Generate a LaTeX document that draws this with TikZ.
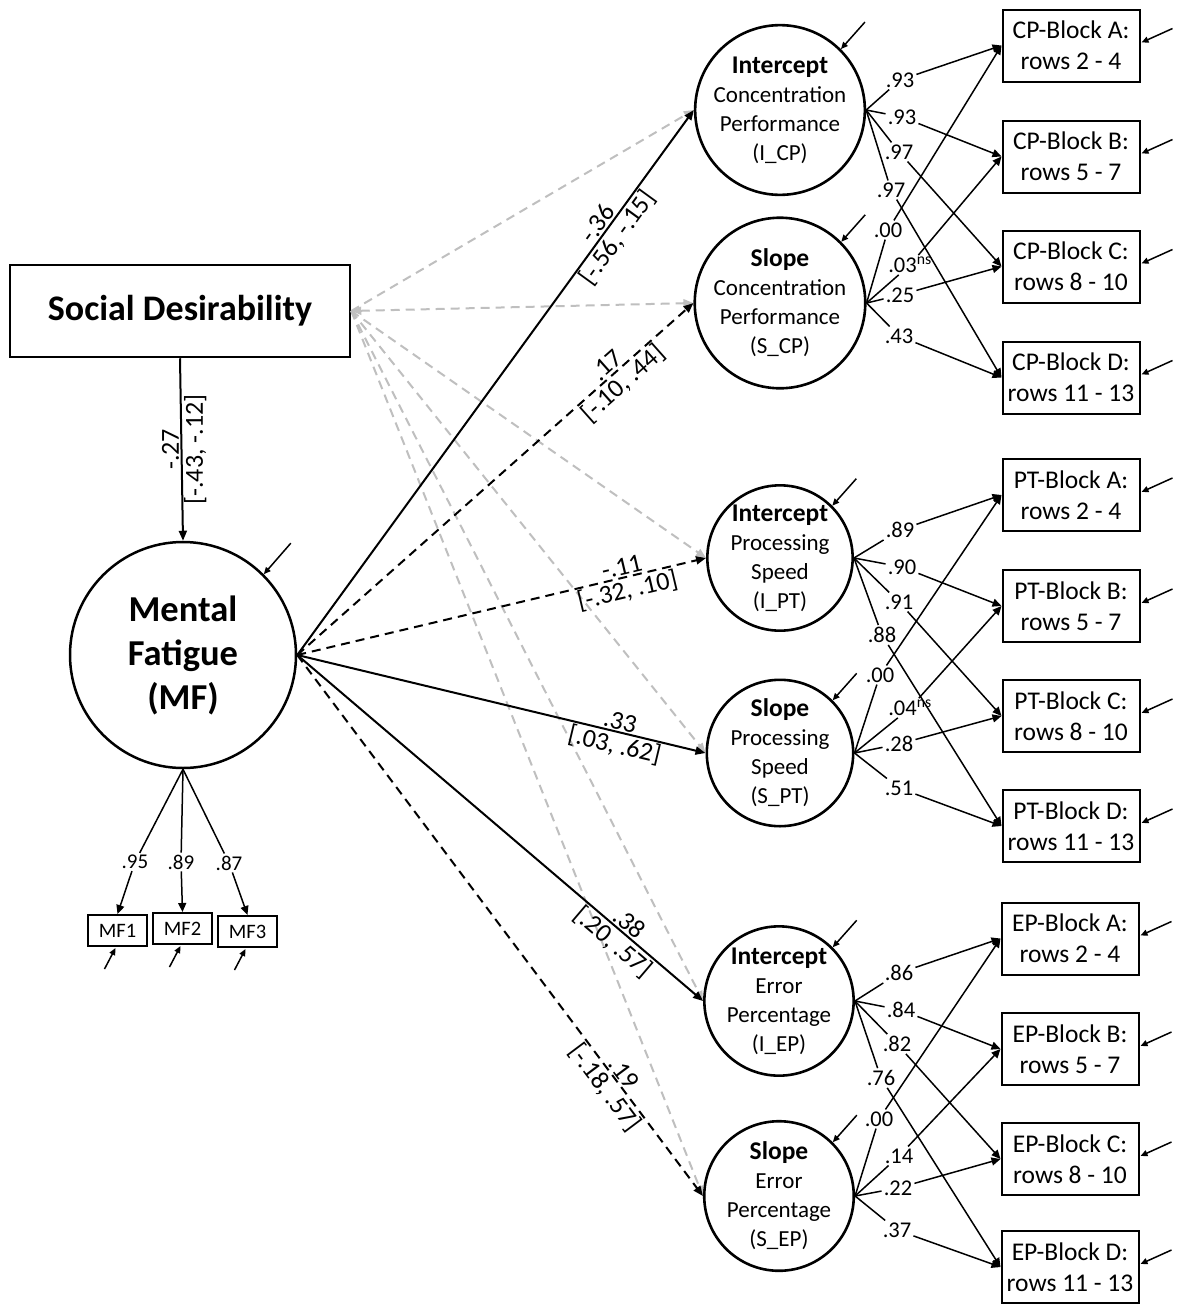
\documentclass[tikz,border=0pt]{standalone}
\usepackage{fontspec}
\setmainfont{Carlito}
\usetikzlibrary{arrows.meta}
\definecolor{sdgray}{RGB}{191,191,191}
\newcommand{\facttitle}[1]{{\fontsize{25.5}{29}\selectfont\bfseries #1}}
\begin{document}
\begin{tikzpicture}[x=1pt,y=-1pt,
  fac/.style={circle,draw,line width=2.6pt,minimum size=145pt,inner sep=0pt,align=center,font=\fontsize{23}{29}\selectfont},
  ind/.style={rectangle,draw,line width=2pt,minimum width=137pt,minimum height=72pt,inner sep=0pt,align=center,font=\fontsize{25.5}{31}\selectfont},
  mfi/.style={rectangle,draw,line width=2pt,minimum width=59pt,minimum height=31pt,inner sep=0pt,font=\fontsize{20.5}{24}\selectfont},
  ld/.style={inner sep=2pt,font=\fontsize{22.5}{25}\selectfont},
  mld/.style={inner sep=2pt,font=\fontsize{21}{24}\selectfont},
  pl/.style={font=\fontsize{26}{28}\selectfont,inner sep=1.5pt},
  loadline/.style={line width=1.5pt,-{Triangle[length=9pt,width=8pt]}},
  resline/.style={line width=1.5pt,-{Triangle[length=7pt,width=6pt]}},
  solidpath/.style={line width=2pt,-{Triangle[length=10pt,width=8pt]}},
  dashpath/.style={solidpath,dash pattern=on 9pt off 6pt},
  graypath/.style={line width=2pt,draw=sdgray,dash pattern=on 9pt off 6pt,-{Triangle[length=10pt,width=8pt]}}
]
\useasboundingbox (0,0) rectangle (1176,1304);

% exogenous and MF
\node[draw,line width=2.5pt,minimum width=340pt,minimum height=92pt,inner sep=0pt,font=\fontsize{36}{40}\selectfont\bfseries] (SD) at (180,311) {Social Desirability};
\node[circle,draw,line width=2.5pt,minimum size=226pt,inner sep=0pt,align=center,font=\fontsize{36.5}{44}\selectfont\bfseries] (MF) at (183,655) {Mental\\Fatigue\\(MF)};

% latent growth factors
\node[fac] (ICP) at (780,110) {\facttitle{Intercept}\\Concentration\\Performance\\(I\_CP)};
\node[fac] (SCP) at (780,303) {\facttitle{Slope}\\Concentration\\Performance\\(S\_CP)};
\node[fac] (IPT) at (780,558) {\facttitle{Intercept}\\Processing\\Speed\\(I\_PT)};
\node[fac] (SPT) at (780,753) {\facttitle{Slope}\\Processing\\Speed\\(S\_PT)};
\node[fac] (IEP) at (779,1001) {\facttitle{Intercept}\\Error\\Percentage\\(I\_EP)};
\node[fac] (SEP) at (779,1196) {\facttitle{Slope}\\Error\\Percentage\\(S\_EP)};

% indicators
\node[ind] (CPA) at (1071,45.5) {CP-Block A:\\rows 2 - 4};
\node[ind] (CPB) at (1071,156.5) {CP-Block B:\\rows 5 - 7};
\node[ind] (CPC) at (1071,266.5) {CP-Block C:\\rows 8 - 10};
\node[ind] (CPD) at (1071,377.5) {CP-Block D:\\rows 11 - 13};
\node[ind] (PTA) at (1071,495) {PT-Block A:\\rows 2 - 4};
\node[ind] (PTB) at (1071,606) {PT-Block B:\\rows 5 - 7};
\node[ind] (PTC) at (1071,716) {PT-Block C:\\rows 8 - 10};
\node[ind] (PTD) at (1071,826) {PT-Block D:\\rows 11 - 13};
\node[ind] (EPA) at (1070,938.5) {EP-Block A:\\rows 2 - 4};
\node[ind] (EPB) at (1070,1049) {EP-Block B:\\rows 5 - 7};
\node[ind] (EPC) at (1070,1159) {EP-Block C:\\rows 8 - 10};
\node[ind] (EPD) at (1070,1267) {EP-Block D:\\rows 11 - 13};

% MF indicators
\node[mfi] (MF1) at (117.5,930.5) {MF1};
\node[mfi] (MF2) at (182.5,928.5) {MF2};
\node[mfi] (MF3) at (247.5,931.5) {MF3};

% loading labels CP
\node[ld] (c1) at (900,80) {.93};
\node[ld] (c2) at (902,117) {.93};
\node[ld] (c3) at (899,152) {.97};
\node[ld] (c4) at (891,190) {.97};
\node[ld] (c5) at (888,230) {.00};
\node[ld] (c6) at (910,265) {.03\textsuperscript{ns}};
\node[ld] (c7) at (900,295) {.25};
\node[ld] (c8) at (899,336) {.43};
% PT
\node[ld] (p1) at (900,530) {.89};
\node[ld] (p2) at (902,567) {.90};
\node[ld] (p3) at (899,602) {.91};
\node[ld] (p4) at (882,635) {.88};
\node[ld] (p5) at (880,675) {.00};
\node[ld] (p6) at (910,708) {.04\textsuperscript{ns}};
\node[ld] (p7) at (899,744) {.28};
\node[ld] (p8) at (899,788) {.51};
% EP
\node[ld] (e1) at (899,973) {.86};
\node[ld] (e2) at (901,1010) {.84};
\node[ld] (e3) at (897,1044) {.82};
\node[ld] (e4) at (881,1078) {.76};
\node[ld] (e5) at (879,1119) {.00};
\node[ld] (e6) at (899,1156) {.14};
\node[ld] (e7) at (898,1188) {.22};
\node[ld] (e8) at (897,1230) {.37};
% MF
\node[mld] (m1) at (135,862) {.95};
\node[mld] (m2) at (181,862) {.89};
\node[mld] (m3) at (229,863) {.87};

% gray SD paths
\draw[graypath,{Triangle[length=10pt,width=8pt]}-{Triangle[length=10pt,width=8pt]}] (SD.east) -- (SCP.west);
\draw[graypath] (SD.east) -- (ICP.west);
\draw[graypath] (SD.east) -- (IPT.west);
\draw[graypath] (SD.east) -- (SPT.west);
\draw[graypath] (SD.east) -- (IEP.west);
\draw[graypath] (SD.east) -- (SEP.west);

% SD -> MF
\draw[solidpath] (SD.south) -- (MF.north)
  node[pos=.5,rotate=90,anchor=south,pl]{-.27}
  node[pos=.5,rotate=90,anchor=north,pl]{[-.43, -.12]};

% MF -> factors
\draw[solidpath] (MF.east) -- (ICP.west)
  node[pos=.78,sloped,above,pl]{-.36} node[pos=.78,sloped,below,pl]{[-.56, -.15]};
\draw[dashpath] (MF.east) -- (SCP.west)
  node[pos=.8,sloped,above,pl]{.17} node[pos=.8,sloped,below,pl]{[-.10, .44]};
\draw[dashpath] (MF.east) -- (IPT.west)
  node[pos=.8,sloped,above,pl]{-.11} node[pos=.8,sloped,below,pl]{[-.32, .10]};
\draw[solidpath] (MF.east) -- (SPT.west)
  node[pos=.785,sloped,above,pl]{.33} node[pos=.785,sloped,below,pl]{[.03, .62]};
\draw[solidpath] (MF.east) -- (IEP.west)
  node[pos=.8,sloped,above,pl]{.38} node[pos=.8,sloped,below,pl]{[.20, .57]};
\draw[dashpath] (MF.east) -- (SEP.west)
  node[pos=.785,sloped,above,pl]{.19} node[pos=.785,sloped,below,pl]{[-.18, .57]};

% loadings CP
\draw[loadline] (ICP.east) -- (c1) -- (CPA.west);
\draw[loadline] (ICP.east) -- (c2) -- (CPB.west);
\draw[loadline] (ICP.east) -- (c3) -- (CPC.west);
\draw[loadline] (ICP.east) -- (c4) -- (CPD.west);
\draw[loadline] (SCP.east) -- (c5) -- (CPA.west);
\draw[loadline] (SCP.east) -- (c6) -- (CPB.west);
\draw[loadline] (SCP.east) -- (c7) -- (CPC.west);
\draw[loadline] (SCP.east) -- (c8) -- (CPD.west);
% loadings PT
\draw[loadline] (IPT.east) -- (p1) -- (PTA.west);
\draw[loadline] (IPT.east) -- (p2) -- (PTB.west);
\draw[loadline] (IPT.east) -- (p3) -- (PTC.west);
\draw[loadline] (IPT.east) -- (p4) -- (PTD.west);
\draw[loadline] (SPT.east) -- (p5) -- (PTA.west);
\draw[loadline] (SPT.east) -- (p6) -- (PTB.west);
\draw[loadline] (SPT.east) -- (p7) -- (PTC.west);
\draw[loadline] (SPT.east) -- (p8) -- (PTD.west);
% loadings EP
\draw[loadline] (IEP.east) -- (e1) -- (EPA.west);
\draw[loadline] (IEP.east) -- (e2) -- (EPB.west);
\draw[loadline] (IEP.east) -- (e3) -- (EPC.west);
\draw[loadline] (IEP.east) -- (e4) -- (EPD.west);
\draw[loadline] (SEP.east) -- (e5) -- (EPA.west);
\draw[loadline] (SEP.east) -- (e6) -- (EPB.west);
\draw[loadline] (SEP.east) -- (e7) -- (EPC.west);
\draw[loadline] (SEP.east) -- (e8) -- (EPD.west);
% loadings MF
\draw[loadline] (MF.south) -- (m1) -- (MF1.north);
\draw[loadline] (MF.south) -- (m2) -- (MF2.north);
\draw[loadline] (MF.south) -- (m3) -- (MF3.north);

% residuals
\foreach \b in {CPA,CPB,CPC,CPD,PTA,PTB,PTC,PTD,EPA,EPB,EPC,EPD}
  \draw[resline] ([shift={(32,-17)}]\b.east) -- ([shift={(1,-3)}]\b.east);
\foreach \f in {ICP,SCP,IPT,SPT,IEP,SEP}
  \draw[resline] ([shift={(24,-27)}]\f.45) -- (\f.45);
\draw[resline] ([shift={(27,-31)}]MF.45) -- (MF.45);
\foreach \m in {MF1,MF2,MF3}
  \draw[resline] ([shift={(-13,22)}]\m.south) -- ([shift={(-2,1)}]\m.south);
\end{tikzpicture}
\end{document}
